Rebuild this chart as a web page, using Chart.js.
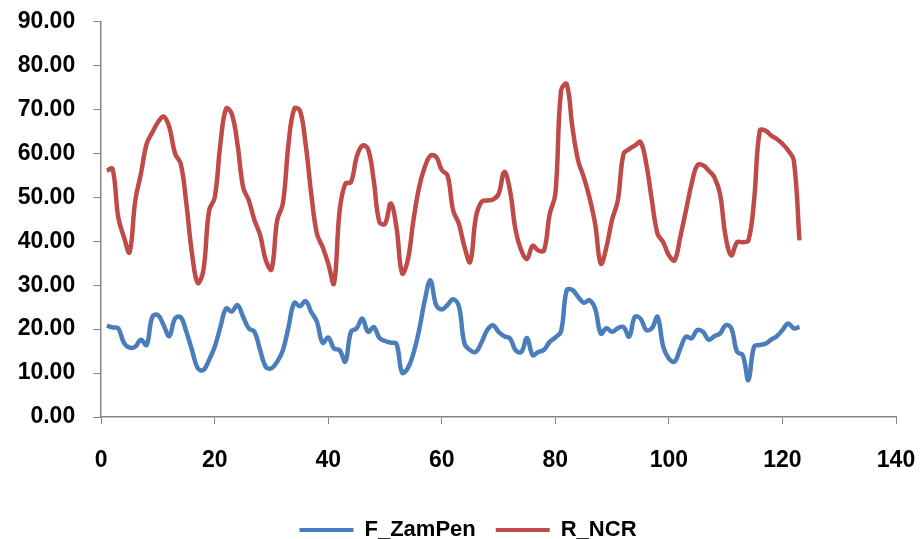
<!DOCTYPE html>
<html>
<head>
<meta charset="utf-8">
<script src="https://cdn.jsdelivr.net/npm/chart.js@4"></script>
<style>
  html, body { margin: 0; padding: 0; background: #fff; }
  #wrap { width: 921px; height: 539px; }
</style>
</head>
<body>
<div id="wrap"><canvas id="grafica" width="921" height="539"></canvas></div>
<script>
// Datos de las series
const nombres = ["F_ZamPen", "R_NCR"];
const zamPen = [20.8, 20.4, 20.2, 16.9, 15.8, 16.0, 17.6, 16.4, 22.8, 23.2,
  20.9, 18.4, 22.4, 22.7, 19.4, 15.2, 11.1, 10.7, 13.0, 16.0,
  20.5, 24.7, 24.0, 25.5, 22.8, 20.2, 19.4, 15.2, 11.4, 11.1,
  12.6, 15.2, 20.5, 26.0, 25.2, 26.4, 23.9, 21.7, 16.9, 18.1,
  15.6, 15.2, 12.6, 19.4, 20.2, 22.4, 19.4, 20.5, 18.0, 17.3,
  16.9, 16.7, 10.1, 11.1, 14.5, 19.8, 26.6, 31.1, 25.5, 24.5,
  25.5, 26.8, 25.2, 16.7, 15.2, 14.8, 17.0, 19.8, 20.9, 19.4,
  18.4, 17.9, 15.2, 14.8, 18.0, 14.1, 14.8, 15.3, 17.1, 18.1,
  19.5, 28.9, 28.9, 27.4, 26.0, 26.6, 24.7, 19.0, 20.2, 19.4,
  20.2, 20.5, 18.3, 22.8, 22.4, 19.8, 20.2, 22.8, 16.0, 13.3,
  12.6, 15.6, 18.3, 17.9, 19.8, 19.4, 17.6, 18.4, 19.0, 20.9,
  20.2, 14.8, 14.1, 8.4, 16.0, 16.4, 16.7, 17.6, 18.4, 19.8,
  21.3, 20.2, 20.5];
const rNcr = [56.1, 56.5, 45.5, 41.0, 37.5, 49.3, 55.4, 62.2, 64.8, 67.1,
  68.4, 66.0, 60.0, 57.7, 48.6, 37.2, 30.5, 33.4, 47.0, 50.0,
  62.2, 70.2, 69.0, 62.2, 52.3, 49.3, 44.8, 41.4, 35.7, 33.6,
  44.8, 48.6, 62.2, 70.2, 69.8, 62.2, 50.8, 41.7, 38.7, 34.9,
  30.4, 47.0, 53.1, 53.5, 59.2, 61.8, 61.0, 53.9, 44.4, 44.0,
  48.6, 43.3, 32.7, 35.7, 44.8, 52.3, 56.9, 59.5, 59.2, 56.2,
  55.0, 47.0, 44.0, 38.7, 35.3, 45.5, 49.0, 49.3, 49.5, 50.8,
  55.8, 51.6, 42.5, 37.9, 36.0, 39.0, 37.9, 37.9, 46.2, 50.8,
  74.3, 75.8, 66.0, 58.4, 54.6, 50.0, 44.0, 34.9, 38.7, 45.0,
  49.3, 59.9, 61.0, 61.8, 62.6, 57.7, 49.3, 41.7, 39.8, 36.8,
  35.7, 41.0, 47.0, 53.1, 57.3, 57.3, 56.1, 54.6, 50.8, 41.0,
  36.8, 39.8, 39.8, 40.2, 49.3, 65.2, 65.2, 64.1, 63.3, 62.2,
  60.7, 58.4, 40.2];

const colores = ["#4A7EBB", "#BE4B48"];
const colorEje = "#868686";
const fuente = "'Liberation Sans', Arial, sans-serif";

// puntos x = número de observación (1..n)
const aPuntos = (serie) => serie.map((v, i) => ({ x: i + 1, y: v }));

// mueve un poco la leyenda (abajo y a la derecha), como en el original
const moverLeyenda = {
  id: "moverLeyenda",
  afterLayout(chart) {
    const dx = 20, dy = 12;
    chart.legend.top += dy;
    chart.legend.bottom += dy;
    chart.legend.left += dx;
    chart.legend.right += dx;
  }
};

const ctx = document.getElementById("grafica").getContext("2d");

const config = {
  type: "line",
  data: {
    datasets: [
      { label: nombres[0], data: aPuntos(zamPen), borderColor: colores[0], backgroundColor: colores[0],
        borderWidth: 4.5, pointRadius: 0, tension: 0.4, fill: false },
      { label: nombres[1], data: aPuntos(rNcr), borderColor: colores[1], backgroundColor: colores[1],
        borderWidth: 4.5, pointRadius: 0, tension: 0.4, fill: false }
    ]
  },
  plugins: [moverLeyenda],
  options: {
    responsive: false,
    animation: false,
    layout: { padding: { top: 21.7, right: 25, left: 0, bottom: 0 } },
    plugins: {
      tooltip: { enabled: false },
      legend: {
        position: "bottom",
        labels: {
          color: "#000",
          font: { family: fuente, size: 22, weight: "bold" },
          boxWidth: 54,
          boxHeight: 4,
          padding: 20,
          generateLabels: (chart) => chart.data.datasets.map((d, i) => ({
            text: d.label, fillStyle: d.borderColor, strokeStyle: d.borderColor,
            lineWidth: 0, datasetIndex: i, hidden: false
          }))
        }
      }
    },
    scales: {
      x: {
        type: "linear",
        min: 0, max: 140,
        ticks: { stepSize: 20, color: "#000", padding: 23,
          font: { family: fuente, size: 23, weight: "bold" } },
        grid: { drawOnChartArea: false, drawTicks: true, tickLength: 7, color: colorEje },
        border: { display: true, color: colorEje, width: 1.5 },
        afterFit: (s) => { s.height = 70; s.paddingLeft = 0; s.paddingRight = 0; }
      },
      y: {
        min: 0, max: 90,
        ticks: { stepSize: 10, color: "#000", padding: 18,
          font: { family: fuente, size: 23, weight: "bold" },
          callback: (v) => v.toFixed(2) },
        grid: { drawOnChartArea: false, drawTicks: true, tickLength: 8, color: colorEje },
        border: { display: true, color: colorEje, width: 1.5 },
        afterFit: (s) => { s.width = 101.2; s.paddingTop = 0; s.paddingBottom = 0; }
      }
    }
  }
};

new Chart(ctx, config);
</script>
</body>
</html>
